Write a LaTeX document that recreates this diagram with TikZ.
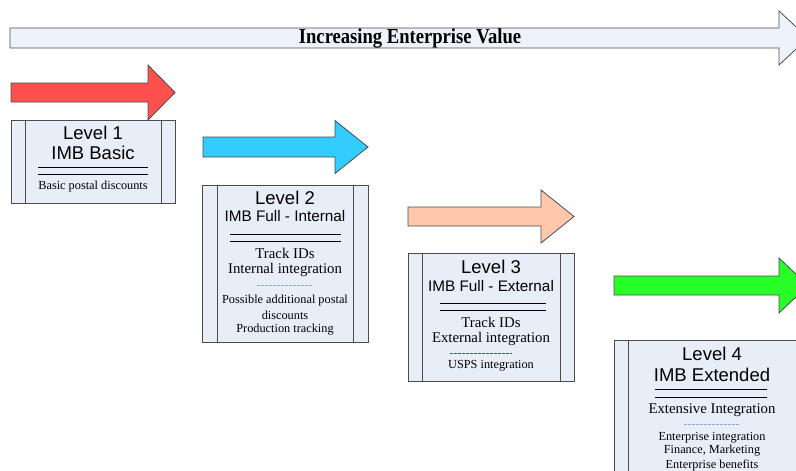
\documentclass[tikz,border=0pt]{standalone}
\usepackage{fontspec}
\setmainfont{Liberation Serif}
\setsansfont{Liberation Sans}
\begin{document}
\begin{tikzpicture}[x=1pt,y=-1pt,
  edge/.style={draw=black!70,line width=0.8pt},
  levelbox/.style={edge,fill=boxfill,rectangle,inner sep=0pt,anchor=north west},
  head/.style={font=\sffamily\fontsize{18.5}{18.5}\selectfont,inner sep=0pt},
  subhead/.style={font=\sffamily\fontsize{15.3}{15.3}\selectfont,inner sep=0pt},
  mid/.style={font=\fontsize{14.8}{14.8}\selectfont,inner sep=0pt},
  small/.style={font=\fontsize{12.3}{12.3}\selectfont,inner sep=0pt},
  rule/.style={draw=black,line width=0.8pt},
  dashrule/.style={draw=dashblue,dash pattern=on 2.7pt off 1.3pt,line width=1pt}]
\definecolor{boxfill}{RGB}{232,238,248}
\definecolor{bigfill}{RGB}{238,242,250}
\definecolor{redf}{RGB}{255,80,80}
\definecolor{bluef}{RGB}{51,204,255}
\definecolor{peachf}{RGB}{255,199,172}
\definecolor{greenf}{RGB}{40,255,40}
\definecolor{dashblue}{RGB}{140,165,215}
\definecolor{darkdash}{RGB}{50,80,170}
\useasboundingbox (0,0) rectangle (796,471);
\clip (0,0) rectangle (796,471);
% fat arrow: fill, x0 body start, xh head start, xt tip, yc center, hb half body, hh half head
\newcommand\fatarrow[7]{%
  \fill[#1,draw=black!70,line width=0.8pt,line join=miter]
  (#2,#5-#6) -- (#3,#5-#6) -- (#3,#5-#7) -- (#4,#5) -- (#3,#5+#7)
  -- (#3,#5+#6) -- (#2,#5+#6) -- cycle;}
% big arrow
\fatarrow{bigfill}{10}{779}{808}{38}{10}{27}
\node[font=\bfseries\fontsize{18.6}{18.6}\selectfont,inner sep=0pt,yscale=1.15] (title) at (410,38) {Increasing Enterprise Value};
% colored arrows
\fatarrow{redf}{11}{148}{175}{92.5}{9.5}{27.5}
\fatarrow{bluef}{203}{335}{368}{147}{10}{26.5}
\fatarrow{peachf}{408}{541}{574}{216.5}{9.5}{26.5}
\fatarrow{greenf}{614}{779}{808}{285.5}{9.5}{27.5}
% Level 1
\node[levelbox,minimum width=164pt,minimum height=83pt] (b1) at (11,120) {};
\draw[edge] (25,120) -- (25,203) (161,120) -- (161,203);
\node[head] (l1a) at (93,133) {Level 1};
\node[head] (l1b) at (93,152.5) {IMB Basic};
\draw[rule] (38,167) -- (148,167) (38,174) -- (148,174);
\node[small] (l1c) at (93,187) {Basic postal discounts};
% Level 2
\node[levelbox,minimum width=166pt,minimum height=157pt] (b2) at (202,185) {};
\draw[edge] (217,185) -- (217,342) (353,185) -- (353,342);
\node[head] (l2a) at (285,198) {Level 2};
\node[subhead] (l2b) at (285,216) {IMB Full - Internal};
\draw[rule] (230,234) -- (341,234) (230,241) -- (341,241);
\node[mid] (l2c) at (285,253) {Track IDs};
\node[mid] (l2d) at (285,270) {Internal integration};
\draw[dashrule] (257,285.5) -- (313,285.5);
\node[small] (l2e) at (285,301) {Possible additional postal};
\node[small] (l2f) at (285,315) {discounts};
\node[small] (l2g) at (285,330) {Production tracking};
% Level 3
\node[levelbox,minimum width=166pt,minimum height=128pt] (b3) at (408,253) {};
\draw[edge] (422,253) -- (422,381) (560,253) -- (560,381);
\node[head] (l3a) at (491,267) {Level 3};
\node[subhead] (l3b) at (491,286) {IMB Full - External};
\draw[rule] (440,303) -- (546,303) (440,310) -- (546,310);
\node[mid] (l3c) at (491,322) {Track IDs};
\node[mid] (l3d) at (491,339) {External integration};
\draw[dashrule,draw=darkdash,line width=0.7pt] (450,353) -- (512,353);
\node[small] (l3e) at (491,366) {USPS integration};
% Level 4
\node[levelbox,minimum width=196pt,minimum height=160pt] (b4) at (614,340) {};
\draw[edge] (628,340) -- (628,500) (796,340) -- (796,500);
\node[head] (l4a) at (712,354) {Level 4};
\node[head] (l4b) at (712,375) {IMB Extended};
\draw[rule] (655,389) -- (767,389) (655,397) -- (767,397);
\node[mid] (l4c) at (712,410) {Extensive Integration};
\draw[dashrule] (684,424) -- (740,424);
\node[small] (l4d) at (712,438) {Enterprise integration};
\node[small] (l4e) at (712,451) {Finance, Marketing};
\node[small] (l4f) at (712,465) {Enterprise benefits};
\end{tikzpicture}
\end{document}
